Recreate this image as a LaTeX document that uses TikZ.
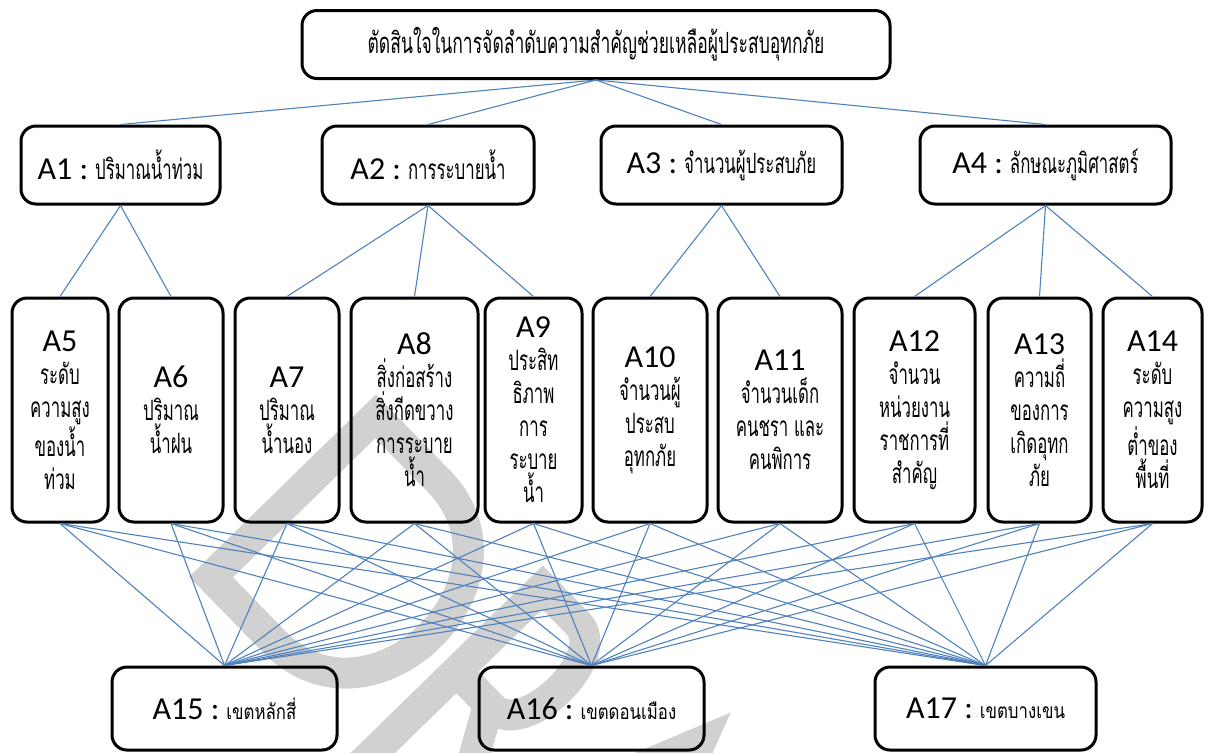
\documentclass[tikz,border=0pt]{standalone}
\usepackage{fontspec}
\setmainfont{Carlito}
\newfontfamily\thaifont[Script=Thai,FakeStretch=0.6]{Loma}
\newfontfamily\zonethai[Script=Thai,FakeStretch=0.8]{Loma}
\definecolor{linkblue}{RGB}{79,129,189}
\newcommand{\lab}[1]{{\rmfamily\fontsize{16}{16}\selectfont #1}}

\begin{document}
\begin{tikzpicture}[x=0.5pt,y=-0.5pt,
 box/.style={draw,line width=1.5pt,rounded corners=7.5pt,align=center,inner sep=2pt},
 head/.style={box,minimum width=99.5pt,minimum height=39pt,font=\fontsize{16}{19}\selectfont},
 crit/.style={box,minimum height=112pt,font=\fontsize{14}{16.5}\thaifont},
 zone/.style={box,minimum width=112.5pt,minimum height=41.5pt,font=\fontsize{16}{19}\selectfont},
 link/.style={draw=linkblue,line width=0.55pt},
 wmark/.style={draw=black!18,line width=15.5pt,line join=miter}]

\useasboundingbox (0,0) rectangle (1208,752);

% watermark
\begin{scope}[shift={(211,577)},rotate=-45.7,x=0.5pt,y=0.5pt]
 \draw[wmark] (0,0) -- (0,230) -- (90,230) .. controls (230,230) and (230,0) .. (90,0) -- cycle;
 \draw[wmark] (239,-40) -- (239,230) -- (290,230) .. controls (335,230) and (335,110) .. (290,110) -- (239,110);
 \draw[wmark] (285,110) -- (360,-20);
 \draw[wmark] (360,-20) -- (460,235) -- (560,-20);
\end{scope}

\node[box,minimum width=294pt,minimum height=34pt,font=\fontsize{14.6}{16}\thaifont] (goal) at (596,44.5)
 {ตัดสินใจในการจัดลำดับความสำคัญช่วยเหลือผู้ประสบอุทกภัย};

\node[head] (a1) at (120.5,165) {A1 :\hspace{3.5pt}{\thaifont\fontsize{14}{16}\selectfont ปริมาณน้ำท่วม}};
\node[head,minimum width=106pt] (a2) at (428,165) {A2 :\hspace{3.5pt}{\thaifont\fontsize{14}{16}\selectfont การระบายน้ำ}};
\node[head,minimum width=120.5pt] (a3) at (721.5,165) {A3 :\hspace{3.5pt}{\thaifont\fontsize{14}{16}\selectfont จำนวนผู้ประสบภัย}};
\node[head,minimum width=125.5pt] (a4) at (1045.5,165) {A4 :\hspace{3.5pt}{\thaifont\fontsize{14}{16}\selectfont ลักษณะภูมิศาสตร์}};

\node[crit,minimum width=48pt] (a5) at (60,410) {\lab{A5}\\ระดับ\\ความสูง\\ของน้ำ\\ท่วม};
\node[crit,minimum width=52pt] (a6) at (171,410) {\lab{A6}\\ปริมาณ\\น้ำฝน};
\node[crit,minimum width=52pt] (a7) at (287,410) {\lab{A7}\\ปริมาณ\\น้ำนอง};
\node[crit,minimum width=63.5pt] (a8) at (414.5,410) {\lab{A8}\\สิ่งก่อสร้าง\\สิ่งกีดขวาง\\การระบาย\\น้ำ};
\node[crit,minimum width=48.5pt] (a9) at (533.5,410) {\lab{A9}\\ประสิท\\ธิภาพ\\การ\\ระบาย\\น้ำ};
\node[crit,minimum width=57pt] (a10) at (650,410) {\lab{A10}\\จำนวนผู้\\ประสบ\\อุทกภัย};
\node[crit,minimum width=62pt] (a11) at (780,410) {\lab{A11}\\จำนวนเด็ก\\คนชรา และ\\คนพิการ};
\node[crit,minimum width=60.5pt] (a12) at (914.5,410) {\lab{A12}\\จำนวน\\หน่วยงาน\\ราชการที่\\สำคัญ};
\node[crit,minimum width=51.5pt] (a13) at (1039.5,410) {\lab{A13}\\ความถี่\\ของการ\\เกิดอุทก\\ภัย};
\node[crit,minimum width=49.5pt] (a14) at (1152.5,410) {\lab{A14}\\ระดับ\\ความสูง\\ต่ำของ\\พื้นที่};

\node[zone] (a15) at (224.5,708.5) {A15 :\hspace{3.5pt}{\zonethai\fontsize{10.5}{16}\selectfont เขตหลักสี่}};
\node[zone] (a16) at (591.5,708.5) {A16 :\hspace{3.5pt}{\zonethai\fontsize{10.5}{16}\selectfont เขตดอนเมือง}};
\node[zone,minimum width=110.5pt] (a17) at (985.5,708.5) {A17 :\hspace{3.5pt}{\zonethai\fontsize{10.5}{16}\selectfont เขตบางเขน}};

\draw[link] (goal.south) edge (a1.north) edge (a2.north) edge (a3.north) edge (a4.north);
\draw[link] (a1.south) edge (a5.north) edge (a6.north);
\draw[link] (a2.south) edge (a7.north) edge (a8.north) edge (a9.north);
\draw[link] (a3.south) edge (a10.north) edge (a11.north);
\draw[link] (a4.south) edge (a12.north) edge (a13.north) edge (a14.north);

\draw[link] (a5.south) edge (a15.north) edge (a16.north) edge (a17.north);
\draw[link] (a6.south) edge (a15.north) edge (a16.north) edge (a17.north);
\draw[link] (a7.south) edge (a15.north) edge (a16.north) edge (a17.north);
\draw[link] (a8.south) edge (a15.north) edge (a16.north) edge (a17.north);
\draw[link] (a9.south) edge (a15.north) edge (a16.north) edge (a17.north);
\draw[link] (a10.south) edge (a15.north) edge (a16.north) edge (a17.north);
\draw[link] (a11.south) edge (a15.north) edge (a16.north) edge (a17.north);
\draw[link] (a12.south) edge (a15.north) edge (a16.north) edge (a17.north);
\draw[link] (a13.south) edge (a15.north) edge (a16.north) edge (a17.north);
\draw[link] (a14.south) edge (a15.north) edge (a16.north) edge (a17.north);

\end{tikzpicture}
\end{document}
